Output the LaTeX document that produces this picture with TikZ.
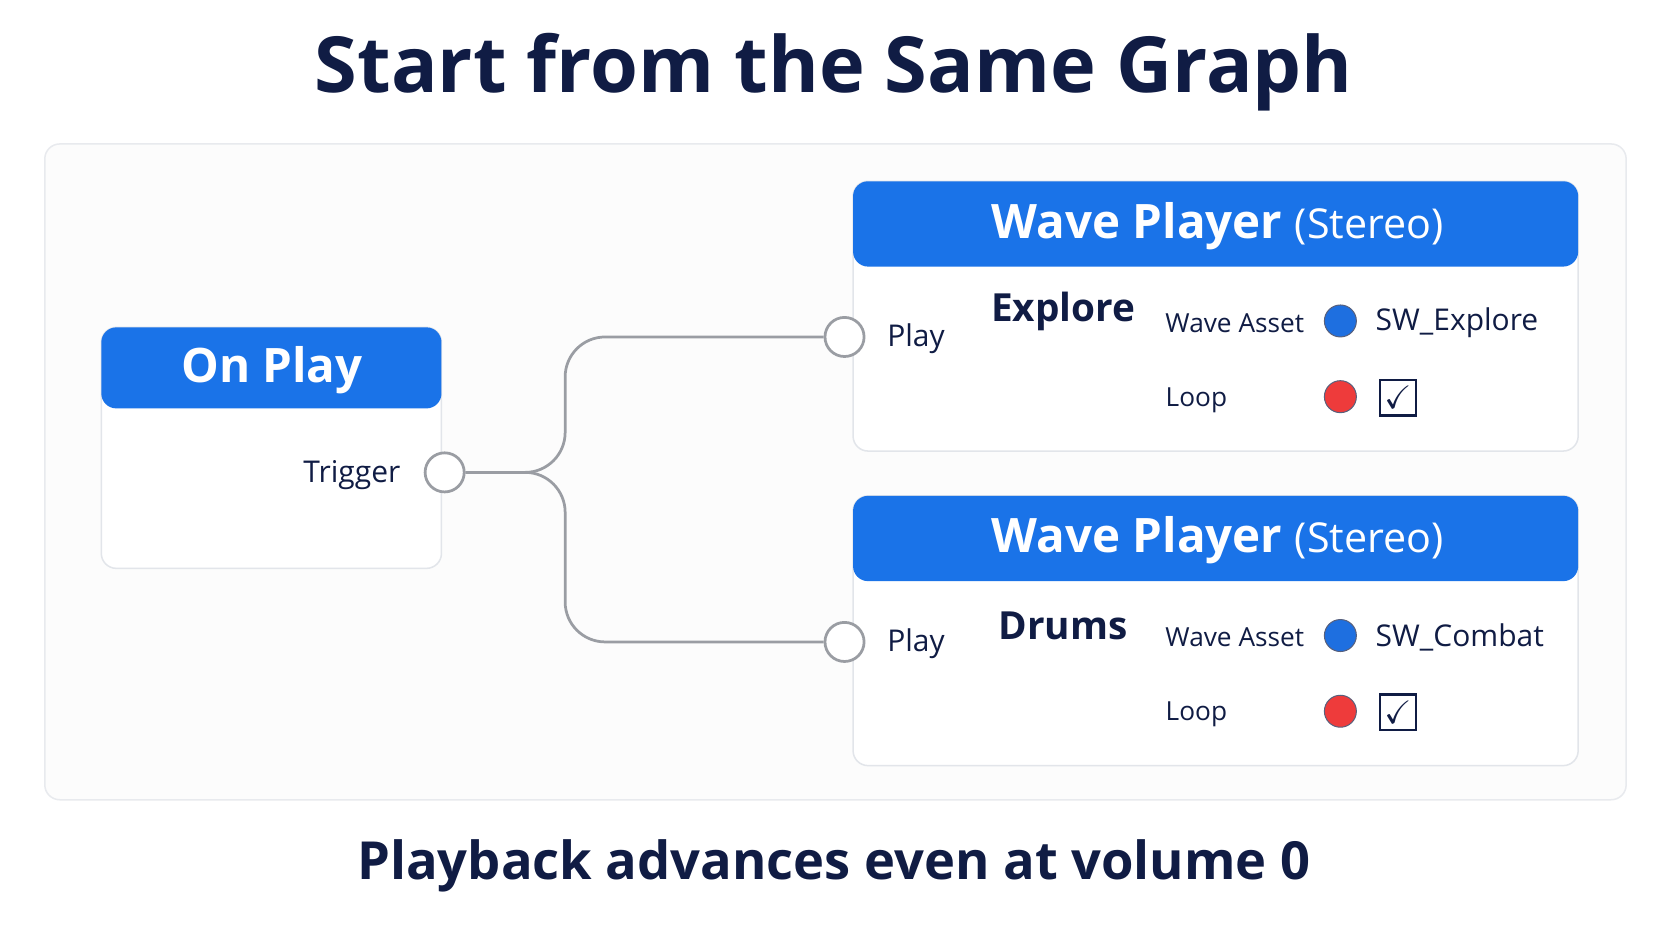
\documentclass[tikz,border=0pt]{standalone}
\usepackage{fontspec}
\setmainfont{Open Sans}
\usepackage{amssymb}
\usetikzlibrary{calc}
\definecolor{navy}{HTML}{101C44}
\definecolor{hdrblue}{HTML}{1A73E8}
\definecolor{panelline}{HTML}{E2E5EA}
\definecolor{wire}{HTML}{9A9DA3}
\definecolor{dotblue}{HTML}{1E6FE0}
\definecolor{dotred}{HTML}{EE3B3B}
\tikzset{
  box/.style={draw=panelline, line width=1.2pt, fill=white, rounded corners=12pt},
  port/.style={circle, draw=wire, line width=2.2pt, fill=white, minimum size=11mm, inner sep=0pt},
  lbl/.style={text=navy, font=\fontsize{24}{28}\selectfont},
  small/.style={text=navy, font=\fontsize{21}{25}\selectfont},
  hdr/.style={text=white, font=\fontsize{38}{44}\selectfont\bfseries},
  dot/.style={circle, minimum size=9mm, inner sep=0pt, draw=navy!70, line width=0.8pt},
  wire/.style={draw=wire, line width=2.2pt, rounded corners=32pt}
}
\newcommand{\waveplayer}[5]{%
  % #1 top offset, #2 name prefix, #3 track, #4 asset, #5 port offset
  \draw[box] (800,#1) rectangle (1480,{#1+253});
  \fill[hdrblue, rounded corners=12pt] (800,{#1+80}) |- (1480,#1) -- (1480,{#1+80}) -- cycle;
  \node[hdr] (#2title) at (1142,{#1+42}) {Wave Player {\mdseries\fontsize{33}{40}\selectfont(Stereo)}};
  \node[port] (#2play) at (792,{#1+#5}) {};
  \node[lbl, anchor=west] (#2playlbl) at (828,{#1+#5+2}) {Play};
  \node[text=navy, font=\fontsize{31}{36}\selectfont\bfseries] (#2track) at (997,{#1+122}) {#3};
  \node[small] (#2asset) at (1158,{#1+133}) {Wave Asset};
  \node[dot, fill=dotblue] (#2blue) at (1257,{#1+131}) {};
  \node[lbl, anchor=west] (#2name) at (1286,{#1+133}) {#4};
  \node[small] (#2loop) at (1122,{#1+205}) {Loop};
  \node[dot, fill=dotred] (#2red) at (1257,{#1+202}) {};
  \node[draw=navy, line width=1.8pt, minimum size=10mm, inner sep=0pt, text=navy,
        font=\fontsize{26}{26}\selectfont] (#2check) at (1311,{#1+203}) {$\checkmark$};
}
\begin{document}
\begin{tikzpicture}[x=0.3mm, y=-0.3mm]
	\useasboundingbox[fill=white] (0,0) rectangle (1568,882);
	\node[text=navy, font=\fontsize{62}{72}\selectfont\bfseries] (title) at (782,68) {Start from the Same Graph};
	\draw[box, draw=panelline!80, fill=gray!2] (42,135) rectangle (1525,750);
	% On Play node
	\draw[box] (95,307) rectangle (414,533);
	\fill[hdrblue, rounded corners=12pt] (95,383) |- (414,307) -- (414,383) -- cycle;
	\node[hdr] (onplay) at (255,347) {On Play};
	\node[lbl] (triglbl) at (330,446) {Trigger};
	\node[port] (trig) at (417,443) {};
	% Wave players
	\waveplayer{170}{a}{Explore}{SW\_Explore}{146}
	\waveplayer{465}{b}{Drums}{SW\_Combat}{137}
	% wires
	\draw[wire] (trig.east) -- (530,443) |- (aplay.west);
	\draw[wire] (trig.east) -- (530,443) |- (bplay.west);
	\node[text=navy, font=\fontsize{42}{48}\selectfont\bfseries] (caption) at (782,812) {Playback advances even at volume 0};
\end{tikzpicture}
\end{document}
